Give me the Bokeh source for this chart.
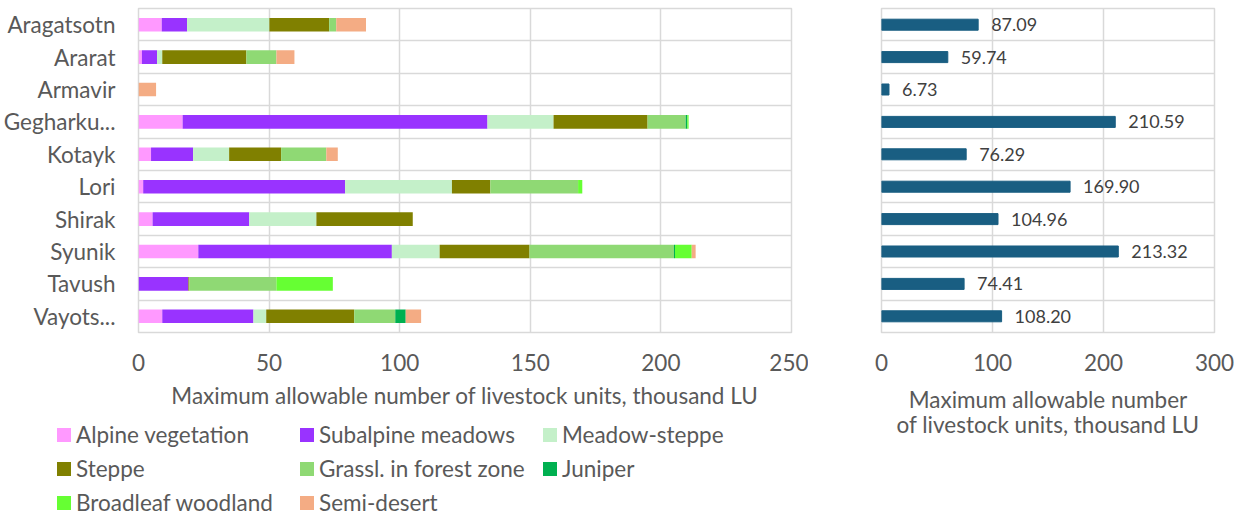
from bokeh.plotting import figure
from bokeh.layouts import row, column
from bokeh.models import ColumnDataSource, FactorRange, Range1d, FixedTicker, LabelSet, Div
from bokeh.core.properties import value
from bokeh.embed import file_html
from bokeh.resources import INLINE

regions = ["Aragatsotn", "Ararat", "Armavir", "Gegharku...", "Kotayk", "Lori",
           "Shirak", "Syunik", "Tavush", "Vayots..."]

alpine     = [8.9, 1.3, 0.0, 16.9, 4.8, 1.8, 5.4, 22.9, 0.0, 9.1]
subalpine  = [9.7, 5.8, 0.0, 116.7, 16.1, 77.3, 37.0, 74.1, 19.1, 34.9]
meadow     = [31.5, 2.0, 0.0, 25.3, 13.8, 40.9, 25.7, 18.3, 0.0, 4.9]
steppe     = [22.9, 32.2, 0.0, 36.0, 19.9, 14.7, 36.9, 34.4, 0.4, 33.7]
grassl     = [2.7, 11.5, 0.0, 14.6, 17.3, 33.6, 0.0, 55.3, 33.3, 15.7]
juniper    = [0.0, 0.0, 0.0, 0.6, 0.0, 0.0, 0.0, 0.4, 0.0, 4.0]
broadleaf  = [0.0, 0.0, 0.0, 0.5, 0.0, 1.6, 0.0, 6.4, 21.6, 0.0]
semidesert = [11.4, 6.9, 6.73, 0.0, 4.4, 0.0, 0.0, 1.5, 0.0, 5.9]

totals = [87.09, 59.74, 6.73, 210.59, 76.29, 169.90, 104.96, 213.32, 74.41, 108.20]

series_keys = ["alpine", "subalpine", "meadow", "steppe", "grassl", "juniper", "broadleaf", "semidesert"]
series_labels = ["Alpine vegetation", "Subalpine meadows", "Meadow-steppe", "Steppe",
                 "Grassl. in forest zone", "Juniper", "Broadleaf woodland", "Semi-desert"]
series_colors = ["#FF99FF", "#9933FF", "#C4F0C9", "#808000", "#8FD974", "#00B050", "#66FF33", "#F4AC84"]

left_ticks = [0, 50, 100, 150, 200, 250]
right_ticks = [0, 100, 200, 300]

FONT = "Lato"
TICK_COLOR = "#595959"
GRID = "#D9D9D9"
FS = "22.5px"

factors = list(reversed(regions))

src = ColumnDataSource(dict(region=regions, alpine=alpine, subalpine=subalpine, meadow=meadow,
                            steppe=steppe, grassl=grassl, juniper=juniper, broadleaf=broadleaf,
                            semidesert=semidesert))


def style(p, ticks):
    p.outline_line_color = GRID
    p.outline_line_width = 1.5
    p.xaxis.ticker = FixedTicker(ticks=ticks)
    p.xgrid.ticker = FixedTicker(ticks=ticks)
    p.xgrid.grid_line_color = GRID
    p.xgrid.grid_line_width = 1.5
    p.ygrid.ticker = FixedTicker(ticks=list(range(1, len(regions))))
    p.ygrid.grid_line_color = GRID
    p.ygrid.grid_line_width = 1.5
    for ax in (p.xaxis, p.yaxis):
        ax.axis_line_color = None
        ax.major_tick_line_color = None
        ax.minor_tick_line_color = None
        ax.major_label_text_font = FONT
        ax.major_label_text_font_size = FS
        ax.major_label_text_color = TICK_COLOR
        ax.axis_label_text_font = FONT
        ax.axis_label_text_font_size = FS
        ax.axis_label_text_color = TICK_COLOR
        ax.axis_label_text_font_style = "normal"
    p.xaxis.major_label_standoff = 15
    p.xaxis.axis_label_standoff = 8


# ---- left: stacked bars
left = figure(width=808, height=415, y_range=FactorRange(factors=factors),
              x_range=Range1d(0, 250), output_backend="svg", toolbar_location=None,
              min_border_left=138, min_border_right=17, min_border_top=8, min_border_bottom=83)
left.hbar_stack(series_keys, y="region", height=0.42, color=series_colors, line_color=None,
                source=src)
style(left, left_ticks)
left.yaxis.major_label_standoff = 17
left.xaxis.axis_label = "Maximum allowable number of livestock units, thousand LU"

# ---- legend (HTML block below the left chart)
parts = []
for i, (lab, col) in enumerate(zip(series_labels, series_colors)):
    cx = 57 + (i % 3) * 243
    cy = 20 + (i // 3) * 34
    parts.append(
        f'<div style="position:absolute;left:{cx}px;top:{cy - 7}px;width:14px;height:14px;'
        f'background:{col};"></div>'
        f'<div style="position:absolute;left:{cx + 19}px;top:{cy - 14}px;line-height:27px;'
        f'white-space:nowrap;">{lab}</div>'
    )
legend_html = (f'<div style="position:relative;width:808px;height:102px;font-family:{FONT};'
               f'font-size:{FS};color:{TICK_COLOR};">' + "".join(parts) + '</div>')
legend_div = Div(text=legend_html, width=808, height=102, margin=(0, 0, 0, 0))

# ---- right: totals
rsrc = ColumnDataSource(dict(region=regions, total=totals, label=[f"{v:.2f}" for v in totals]))
right = figure(width=431, height=517, y_range=FactorRange(factors=factors),
               x_range=Range1d(0, 300), output_backend="svg", toolbar_location=None,
               min_border_left=73, min_border_right=25, min_border_top=8, min_border_bottom=185)
right.hbar(y="region", right="total", height=0.34, color="#195E82", source=rsrc)
right.add_layout(LabelSet(x="total", y="region", text="label", source=rsrc, x_offset=13,
                          text_baseline="middle", text_font=value(FONT), text_font_size="18px",
                          text_color="#404040"))
style(right, right_ticks)
right.yaxis.visible = False
right.xaxis.axis_label = "Maximum allowable number\nof livestock units, thousand LU"
right.xaxis.axis_label_text_line_height = 0.93
right.xaxis.axis_label_standoff = 12

layout = row(column(left, legend_div), right)
open("out.html", "w").write(file_html(layout, INLINE))
